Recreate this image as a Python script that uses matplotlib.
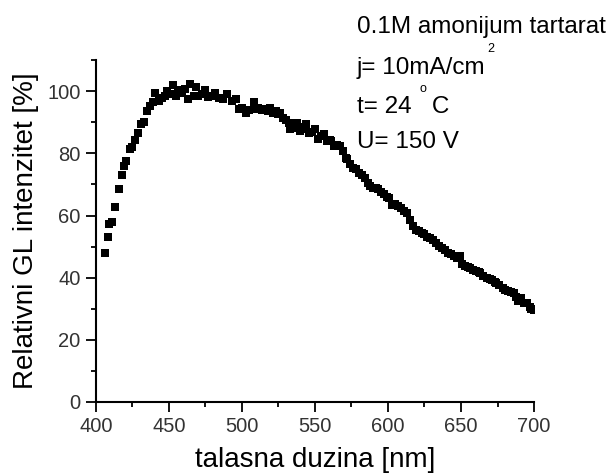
import matplotlib
matplotlib.use("Agg")
import matplotlib.pyplot as plt
from matplotlib.ticker import MultipleLocator

plt.rcParams["font.family"] = ["Liberation Sans", "DejaVu Sans"]

# wavelength [nm] and relative GL intensity [%]
wavelength = [
    406, 408, 409, 411, 413, 416, 418, 419.5, 420.5, 423, 425, 427, 428.5, 431,
    433, 435, 437, 439, 440.5, 443, 445, 447, 449, 451, 453, 455, 456.5, 459,
    461, 463, 464.5, 467, 468.5, 470, 472.5, 475, 477, 479, 481.5, 484, 487,
    490, 493, 496, 498, 500, 503, 505, 508, 510, 511, 514, 516, 518, 519, 521,
    523, 525, 526, 528, 530, 532, 533, 535, 536, 538, 540, 541, 543, 544, 546,
    548, 550, 552, 554, 556, 558, 560, 561, 563, 565, 567, 569, 571, 572, 574,
    576, 578, 580, 582, 584, 586, 588, 590, 592, 593, 595, 597, 599, 601, 603,
    605, 607, 609, 611, 613, 615, 617, 619, 621, 623, 625, 627, 629, 631, 633,
    635, 637, 639, 641, 643, 645, 647, 649, 651, 653, 655, 656, 658, 660, 662,
    663, 665, 668, 670, 671, 673, 674, 676, 679, 680, 682, 684, 686, 688, 689,
    691, 693, 695, 697, 698, 700,
]
intensity = [
    48.0, 53.0, 57.4, 58.0, 62.8, 68.4, 72.9, 75.9, 77.5, 81.5, 82.2, 84.3, 86.7, 89.4,
    90.1, 93.7, 95.1, 96.4, 99.6, 96.9, 97.9, 98.5, 100.1, 99.0, 101.9, 98.5, 100.4, 99.4,
    100.6, 97.4, 102.3, 98.5, 101.5, 98.5, 99.0, 100.4, 98.3, 98.5, 99.6, 97.9, 97.4,
    99.0, 96.9, 97.4, 94.4, 94.7, 93.1, 94.0, 96.4, 94.2, 94.7, 94.0, 94.2, 93.5, 94.7, 93.0,
    93.6, 92.6, 93.1, 91.5, 90.8, 89.9, 87.7, 88.3, 88.8, 89.9, 87.2, 87.7, 88.5, 89.4, 86.7,
    87.0, 87.7, 84.5, 85.5, 86.1, 84.0, 84.3, 84.0, 82.4, 82.8, 82.4, 80.7, 78.6, 78.3, 76.5,
    75.4, 75.0, 73.8, 73.2, 72.2, 70.6, 69.5, 69.0, 68.8, 68.4, 67.5, 66.8, 66.0, 65.7, 63.5,
    63.8, 63.0, 62.5, 61.5, 60.9, 58.5, 56.5, 55.5, 54.9, 54.5, 53.9, 53.2, 52.8, 52.0, 51.2,
    50.3, 49.6, 48.8, 48.0, 47.5, 46.9, 46.3, 46.9, 44.5, 43.6, 43.4, 43.1, 42.6, 42.0, 41.8,
    41.5, 40.5, 39.9, 39.6, 39.4, 38.6, 38.3, 37.8, 36.7, 36.0, 35.6, 35.3, 35.0, 33.8, 32.4,
    33.5, 32.0, 31.8, 30.5, 30.0, 29.5,
]

fig = plt.figure(figsize=(6.11, 4.74), dpi=100)
ax = fig.add_axes([0.157, 0.152, 0.717, 0.721])

ax.plot(wavelength, intensity, "s", color="black", markersize=5.6, markeredgewidth=0)

ax.set_xlim(400, 700)
ax.set_ylim(0, 110)
ax.xaxis.set_major_locator(MultipleLocator(50))
ax.xaxis.set_minor_locator(MultipleLocator(25))
ax.yaxis.set_major_locator(MultipleLocator(20))
ax.yaxis.set_minor_locator(MultipleLocator(10))

for side in ["top", "right"]:
    ax.spines[side].set_visible(False)
for side in ["left", "bottom"]:
    ax.spines[side].set_linewidth(1.5)

ax.tick_params(which="major", length=7, width=1.3, labelsize=14.5,
               labelcolor="#333333", pad=4)
ax.tick_params(which="minor", length=3.5, width=1.3)

ax.set_xlabel("talasna duzina [nm]", fontsize=20, labelpad=8)
ax.set_ylabel("Relativni GL intenzitet [%]", fontsize=20, labelpad=6)

# annotation block (figure pixel positions)
W, H = 611, 474
def ftext(x, y, s, size):
    fig.text(x / W, 1 - y / H, s, fontsize=size, ha="left", va="baseline")

ftext(357, 33, "0.1M amonijum tartarat", 17.5)
ftext(357, 74, "j= 10mA/cm", 17.5)
ftext(487, 52, "2", 9)
ftext(357, 113, "t= 24   C", 17.5)
ftext(419, 92, "o", 9)
ftext(357, 148, "U= 150 V", 17.5)

fig.savefig("out.png", dpi=100)
